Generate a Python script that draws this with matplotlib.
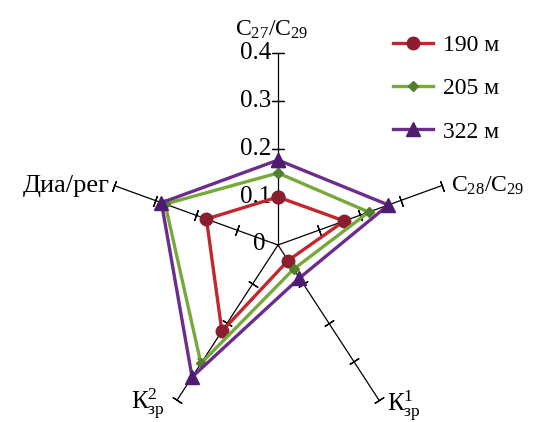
import numpy as np
import matplotlib.pyplot as plt

plt.rcParams['font.family'] = ['Liberation Serif', 'DejaVu Serif']
plt.rcParams['mathtext.fontset'] = 'custom'
plt.rcParams['mathtext.rm'] = 'Liberation Serif'
plt.rcParams['mathtext.it'] = 'Liberation Serif:italic'

# data
axis_names = [r'C$_{27}$/C$_{29}$', r'C$_{28}$/C$_{29}$', r'К$_{\mathrm{зр}}^{1}$',
              r'К$_{\mathrm{зр}}^{2}$', 'Диа/рег']
depths = ['190 м', '205 м', '322 м']
v190 = [0.10, 0.162, 0.040, 0.222, 0.175]
v205 = [0.15, 0.222, 0.062, 0.305, 0.276]
v322 = [0.177, 0.270, 0.085, 0.340, 0.285]
tick_vals = [0.1, 0.2, 0.3, 0.4]
tick_labels = ['0.1', '0.2', '0.3', '0.4']
rmax = 0.4

series = [v190, v205, v322]
line_cols = ['#C1272D', '#76A83A', '#6B2D8C']
mark_cols = ['#8C1D2E', '#527F2C', '#4E1C6E']
markers = ['o', 'D', '^']
msizes = [9, 5.5, 10]

W, H = 539, 422
fig = plt.figure(figsize=(W / 100, H / 100), dpi=100)
ax = fig.add_axes([0, 0, 1, 1])
cx, cy = 278, 177          # centre in pixels (from bottom-left)
sx, sy = 430, 480          # pixels per unit
ax.set_xlim(-cx / sx, (W - cx) / sx)
ax.set_ylim(-cy / sy, (H - cy) / sy)
ax.axis('off')

theta = np.deg2rad(90 - 72 * np.arange(5))

# spokes with ticks
for th in theta:
    ax.plot([0, rmax * np.cos(th)], [0, rmax * np.sin(th)], color='black', lw=0.9, zorder=1)
    ang = np.degrees(np.arctan2(sy * np.sin(th), sx * np.cos(th)))
    tv = np.array(tick_vals)
    ax.plot(tv * np.cos(th), tv * np.sin(th), ls='none', marker=(2, 2, ang),
            ms=8, mew=0.9, mec='black', zorder=1)

# tick labels on top axis
for t, lab in zip(tick_vals, tick_labels):
    ax.annotate(lab, (0, t), xytext=(-7, 0), textcoords='offset pixels',
                ha='right', va='center', fontsize=18)
ax.annotate('0', (0, 0), xytext=(-13, 1), textcoords='offset pixels',
            ha='right', va='center', fontsize=18)

# axis names
offs = [(-6, 23), (9, 0), (8, -5), (-12, -3), (-5, 0)]
has = ['center', 'left', 'left', 'right', 'right']
sizes = [17, 17, 18, 18, 19]
for th, name, o, ha, fs in zip(theta, axis_names, offs, has, sizes):
    ax.annotate(name, (rmax * np.cos(th), rmax * np.sin(th)), xytext=o,
                textcoords='offset pixels', ha=ha, va='center', fontsize=fs)

# series
for vals, lab, lc, mc, mk, ms in zip(series, depths, line_cols, mark_cols, markers, msizes):
    r = np.array(vals + vals[:1])
    t = np.append(theta, theta[0])
    ax.plot(r * np.cos(t), r * np.sin(t), color=lc, lw=2.4, marker=mk, ms=ms,
            mfc=mc, mec=mc, label=lab, zorder=3)

ax.legend(loc='upper left', bbox_to_anchor=(372 / W, 1 - 13 / H), frameon=False,
          fontsize=17, handlelength=1.7, handletextpad=0.4, labelspacing=0.93)

plt.savefig('out.png', dpi=100)
